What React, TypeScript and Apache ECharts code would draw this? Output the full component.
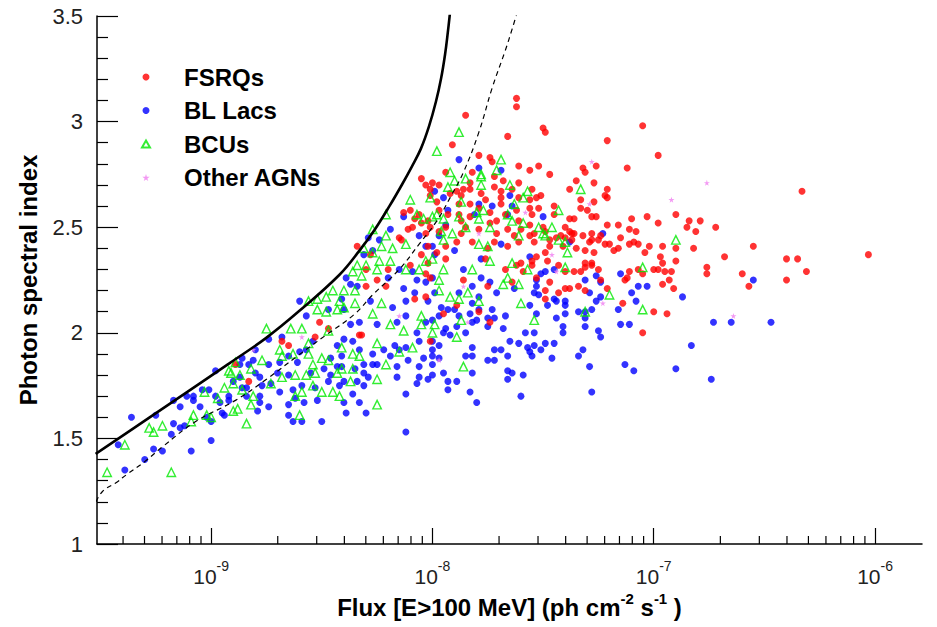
import React, { useEffect, useRef } from "react";
import * as echarts from "echarts";

// Each point: [log10(flux in ph cm^-2 s^-1), photon spectral index]
const fsrqPoints: number[][] = [
  [-7.50,2.97],[-7.49,2.95],[-7.21,2.91],[-7.05,2.98],[-6.98,2.84],[-7.56,2.77],[-7.52,2.79],[-7.47,2.75],[-7.32,2.78],[-7.31,2.76],
  [-7.26,2.79],[-7.12,2.78],[-7.35,2.72],[-7.27,2.71],[-7.38,2.68],[-7.21,2.68],[-7.51,2.65],[-7.53,2.64],[-7.33,2.63],[-7.22,2.65],
  [-7.21,2.64],[-7.27,2.62],[-7.45,2.60],[-7.56,2.59],[-7.52,2.59],[-7.33,2.59],[-7.30,2.58],[-7.55,2.56],[-7.45,2.56],[-7.28,2.55],
  [-7.26,2.55],[-7.38,2.54],[-7.36,2.54],[-7.10,2.54],[-7.03,2.55],[-7.21,2.51],[-7.16,2.51],[-7.56,2.51],[-7.50,2.50],[-7.40,2.50],
  [-6.98,2.52],[-7.54,2.47],[-7.49,2.48],[-7.38,2.48],[-7.37,2.47],[-7.36,2.47],[-7.32,2.46],[-7.28,2.47],[-7.24,2.46],[-7.11,2.49],
  [-7.08,2.48],[-7.15,2.45],[-7.56,2.46],[-7.47,2.44],[-7.44,2.45],[-7.42,2.46],[-7.40,2.45],[-7.37,2.44],[-7.29,2.43],[-7.28,2.44],
  [-7.25,2.44],[-7.22,2.42],[-7.20,2.42],[-7.11,2.42],[-7.09,2.43],[-7.07,2.42],[-7.02,2.41],[-7.47,2.41],[-7.41,2.41],[-7.54,2.43],
  [-7.35,2.40],[-7.31,2.39],[-7.27,2.38],[-7.18,2.39],[-7.16,2.40],[-7.04,2.38],[-7.49,2.38],[-7.53,2.36],[-7.55,2.34],[-7.48,2.34],
  [-7.43,2.32],[-7.31,2.33],[-7.28,2.33],[-7.31,2.31],[-7.28,2.32],[-7.55,2.32],[-7.00,2.30],[-7.40,2.29],[-7.36,2.29],[-7.33,2.29],
  [-7.25,2.30],[-7.11,2.29],[-7.12,2.26],[-7.13,2.25],[-7.07,2.30],[-7.53,2.26],[-7.24,2.25],[-7.47,2.24],[-7.49,2.20],[-7.43,2.19],
  [-7.40,2.21],[-7.38,2.21],[-7.34,2.22],[-7.31,2.20],[-7.21,2.21],[-7.49,2.16],[-7.14,2.14],[-7.00,2.10],[-7.05,2.00],
  [-6.33,2.67],[-6.90,2.56],[-6.84,2.53],[-6.79,2.53],[-6.85,2.50],[-6.81,2.48],[-6.72,2.50],[-6.96,2.41],[-6.90,2.40],[-6.82,2.40],
  [-6.55,2.41],[-6.97,2.36],[-6.96,2.33],[-6.90,2.34],[-6.68,2.36],[-6.40,2.35],[-6.35,2.35],[-6.03,2.37],[-6.98,2.30],[-6.95,2.29],
  [-6.92,2.29],[-6.76,2.31],[-6.76,2.28],[-6.60,2.28],[-6.31,2.29],[-7.05,2.28],[-6.93,2.25],[-6.96,2.23],[-6.91,2.21],[-6.57,2.22],
  [-6.40,2.25],[-6.94,2.09],
  [-7.62,3.11],[-7.62,3.07],[-7.85,3.03],[-7.66,2.93],[-7.91,2.89],[-7.74,2.83],[-7.73,2.81],[-7.79,2.84],[-7.61,2.79],[-7.94,2.76],
  [-7.82,2.76],[-7.72,2.74],[-7.97,2.70],[-7.83,2.71],[-7.68,2.72],[-7.61,2.71],[-7.64,2.68],[-7.89,2.67],[-7.86,2.68],[-7.83,2.68],
  [-7.72,2.69],[-7.69,2.67],[-7.55,2.68],[-8.01,2.65],[-7.92,2.66],[-7.87,2.65],[-7.78,2.66],[-7.69,2.64],[-7.76,2.63],[-7.61,2.64],
  [-7.56,2.63],[-7.98,2.62],[-7.88,2.61],[-7.83,2.61],[-7.69,2.61],[-7.97,2.58],[-7.79,2.59],[-7.74,2.57],[-7.62,2.58],[-7.93,2.56],
  [-7.88,2.56],[-7.83,2.55],[-7.67,2.56],[-7.87,2.53],[-7.74,2.52],[-7.71,2.53],[-7.61,2.53],[-7.94,2.50],[-7.85,2.50],[-7.79,2.49],
  [-7.66,2.49],[-7.60,2.49],[-7.97,2.48],[-7.87,2.47],[-7.71,2.47],[-7.63,2.46],[-7.89,2.43],[-7.82,2.43],[-7.72,2.43],[-7.61,2.43],
  [-7.94,2.41],[-7.75,2.40],[-7.66,2.41],
  [-7.79,2.10],[-7.74,2.05],[-7.95,2.09],[-7.86,2.25],[-7.75,2.22],[-8.01,2.26],[-7.89,2.13],[-7.60,2.33],[-7.76,2.35],[-7.67,2.30],
  [-7.64,2.24],[-7.62,2.32],[-7.59,2.29],
  [-8.05,2.73],[-8.03,2.70],[-8.00,2.71],[-8.01,2.68],[-8.13,2.57],[-8.10,2.58],[-8.06,2.56],[-8.08,2.54],[-8.05,2.52],[-8.02,2.53],
  [-8.11,2.49],[-8.09,2.50],[-8.15,2.45],[-8.14,2.44],[-8.01,2.50],[-8.03,2.47],[-8.34,2.41],[-8.02,2.41],[-7.98,2.38],[-8.05,2.37],
  [-7.94,2.35],[-8.10,2.32],[-8.30,2.30],[-8.20,2.30],[-8.02,2.33],[-8.25,2.25],[-8.21,2.22],[-8.03,2.28],[-8.30,2.22],
  [-8.08,2.16],[-8.03,2.17],[-8.01,1.96],[-8.33,1.99],
  [-8.28,2.37],[-8.51,2.05],[-8.47,2.02],[-8.68,1.96],[-8.65,1.94],[-8.53,1.98],[-8.83,1.77],[-8.32,1.99],[-8.89,1.85]
];

const blLacPoints: number[][] = [
  [-6.55,2.25],[-7.03,2.22],[-6.87,2.17],[-6.73,2.05],[-6.65,2.05],[-6.47,2.05],[-6.83,1.94],[-6.90,1.83],[-6.74,1.78],
  [-7.50,2.55],[-7.23,2.47],[-7.38,2.43],[-7.56,2.36],[-7.49,2.29],[-7.51,2.28],[-7.45,2.30],[-7.31,2.25],[-7.26,2.27],[-7.24,2.24],
  [-7.15,2.28],[-7.53,2.22],[-7.54,2.19],[-7.52,2.18],[-7.29,2.19],[-7.10,2.19],[-7.07,2.22],[-7.45,2.16],[-7.40,2.15],[-7.44,2.15],
  [-7.26,2.15],[-7.24,2.17],[-7.56,2.13],[-7.48,2.13],[-7.40,2.13],[-7.16,2.11],[-7.08,2.15],[-7.34,2.10],[-7.31,2.10],[-7.28,2.11],
  [-7.53,2.09],[-7.44,2.07],[-7.40,2.09],[-7.31,2.07],[-7.31,2.03],[-7.15,2.04],[-7.11,2.04],[-7.41,2.03],[-7.54,2.00],[-7.25,2.01],
  [-7.24,1.98],[-7.41,2.00],[-7.49,1.95],[-7.45,1.95],[-7.51,1.92],[-7.56,1.91],[-7.55,1.89],[-7.32,1.92],[-7.34,1.89],[-7.46,1.88],
  [-7.13,1.85],[-7.09,1.82],[-7.29,1.84],[-7.28,1.72],
  [-7.88,2.82],[-7.79,2.78],[-7.69,2.77],[-7.99,2.67],[-7.95,2.64],[-7.65,2.65],[-7.79,2.61],[-7.73,2.60],[-7.64,2.60],[-7.93,2.58],
  [-7.81,2.56],[-7.66,2.56],[-7.69,2.42],
  [-7.99,2.37],[-7.90,2.39],[-7.78,2.35],[-7.86,2.30],[-8.00,2.26],[-7.78,2.26],[-7.74,2.24],[-7.82,2.22],[-7.53,2.25],[-7.99,2.19],
  [-7.88,2.19],[-7.71,2.19],[-7.63,2.21],[-7.79,2.17],[-7.82,2.14],[-7.96,2.12],[-7.93,2.11],[-7.90,2.11],[-7.79,2.11],[-7.73,2.11],
  [-7.67,2.08],[-7.83,2.09],[-7.88,2.08],[-7.97,2.08],[-7.75,2.07],[-7.80,2.06],[-7.72,2.07],[-7.82,2.05],[-8.00,2.06],[-7.94,2.02],
  [-7.89,2.03],[-7.95,2.00],[-7.92,1.99],[-7.85,2.00],[-7.75,2.03],[-7.68,2.02],[-7.58,2.00],[-8.00,1.96],[-7.97,1.94],[-7.82,1.93],
  [-7.72,1.92],[-7.69,1.92],[-7.65,1.96],[-7.61,1.95],[-7.57,1.93],[-7.54,1.94],[-7.85,1.89],[-7.82,1.89],[-7.75,1.87],[-7.72,1.87],
  [-7.66,1.89],[-8.00,1.89],[-8.00,1.80],[-7.95,1.81],[-7.82,1.81],[-7.66,1.82],[-7.64,1.81],[-7.93,1.77],[-7.89,1.77],[-7.66,1.78],
  [-7.59,1.80],[-7.93,1.73],[-7.83,1.72],[-7.60,1.70],[-7.80,1.67],
  [-8.19,2.49],[-8.13,2.55],[-8.29,2.45],[-8.24,2.44],[-8.31,2.37],[-8.27,2.39],[-8.06,2.46],[-7.97,2.46],[-7.94,2.51],[-8.03,2.41],
  [-8.00,2.41],[-8.15,2.30],[-8.09,2.29],[-8.20,2.26],[-8.07,2.25],[-8.03,2.24],[-8.37,2.23],[-8.34,2.22],[-8.13,2.21],[-8.08,2.19],
  [-8.39,2.26],
  [-8.41,2.16],[-8.28,2.15],[-8.18,2.12],[-8.12,2.15],[-8.02,2.15],[-8.03,2.05],[-8.12,2.08],[-8.37,2.04],[-8.33,2.05],[-8.25,2.04],
  [-8.16,2.05],[-8.07,2.00],[-8.17,1.94],[-8.12,1.93],[-8.15,1.92],[-8.06,1.96],[-8.00,1.92],[-8.27,1.90],[-8.22,1.92],[-8.33,1.92],
  [-8.19,1.89],[-8.11,1.87],[-8.04,1.88],[-7.97,1.88],[-8.31,1.85],[-8.27,1.85],[-8.25,1.85],[-8.41,1.84],[-8.35,1.83],[-8.16,1.84],
  [-8.06,1.84],[-8.00,1.85],[-8.31,1.81],[-8.29,1.79],[-8.16,1.79],[-8.06,1.79],[-8.02,1.78],[-8.40,1.77],[-8.34,1.77],[-8.07,1.76],
  [-8.36,1.71],[-8.12,1.71],[-8.33,1.67],[-8.39,1.62],[-8.30,1.62],[-8.12,1.53],
  [-8.60,2.15],[-8.57,2.08],[-8.47,2.11],[-8.40,2.11],[-8.68,1.98],[-8.74,1.97],[-8.80,1.92],[-8.65,1.89],[-8.60,1.91],[-8.57,1.92],
  [-8.54,1.96],[-8.43,1.94],[-8.40,1.97],[-8.36,1.96],[-8.46,1.88],[-8.41,1.89],[-8.86,1.88],[-8.81,1.87],[-8.69,1.86],[-8.61,1.86],
  [-8.83,1.85],[-8.74,1.85],[-8.70,1.81],[-8.65,1.80],[-8.55,1.81],[-8.49,1.83],[-8.46,1.80],[-8.43,1.84],[-8.87,1.79],[-8.78,1.79],
  [-8.90,1.77],[-8.77,1.75],[-8.73,1.76],[-8.63,1.73],[-8.59,1.75],[-8.53,1.74],[-8.47,1.77],[-8.42,1.75],[-8.31,1.75],[-8.78,1.70],
  [-8.69,1.72],[-8.62,1.69],[-8.58,1.67],[-8.52,1.68],[-8.40,1.67],[-8.78,1.67],[-8.84,1.70],[-8.65,1.66],[-8.74,1.65],[-8.79,1.63],
  [-8.65,1.61],[-8.63,1.58],[-8.59,1.58],[-8.50,1.58],
  [-9.36,1.60],[-9.42,1.47],[-9.39,1.35],[-9.30,1.40],[-9.26,1.45],[-9.22,1.44],[-9.25,1.61],[-9.18,1.52],[-9.17,1.57],[-9.14,1.55],
  [-9.12,1.56],[-9.17,1.68],[-9.14,1.65],[-9.09,1.44],[-9.00,1.49],[-9.11,1.70],[-9.08,1.70],[-9.08,1.68],[-9.05,1.65],[-9.04,1.73],
  [-9.01,1.73],[-8.98,1.82],[-8.98,1.70],[-9.02,1.60],[-9.00,1.58],[-8.96,1.67],[-8.95,1.62],[-8.94,1.61],[-8.92,1.70],[-8.92,1.68],
  [-8.86,1.74],[-8.84,1.74],[-8.87,1.85],[-8.80,1.81]
];

const bcuPoints: number[][] = [
  [-6.90,2.44],[-7.05,2.31],[-7.05,2.11],
  [-7.33,2.68],[-7.43,2.58],[-7.52,2.50],[-7.46,2.50],[-7.50,2.47],[-7.49,2.46],[-7.43,2.44],[-7.40,2.43],[-7.39,2.38],[-7.40,2.31],
  [-7.20,2.18],[-7.31,2.10],[-7.54,2.06],
  [-7.88,2.95],[-7.98,2.86],[-7.69,2.82],[-7.71,2.77],[-7.92,2.76],[-7.78,2.75],[-7.78,2.74],[-7.85,2.73],[-7.90,2.72],[-7.78,2.70],
  [-7.65,2.70],[-7.93,2.69],[-7.57,2.67],[-7.59,2.64],[-8.01,2.64],[-7.87,2.62],[-7.63,2.61],[-7.80,2.57],[-7.77,2.58],[-7.98,2.56],
  [-7.66,2.56],[-7.88,2.55],[-7.95,2.54],[-7.79,2.54],[-7.64,2.53],[-7.59,2.52],[-7.85,2.50],[-7.74,2.50],[-7.96,2.48],[-7.91,2.47],
  [-7.61,2.46],[-7.79,2.42],[-7.75,2.41],
  [-7.95,2.30],[-7.97,2.25],[-7.97,2.20],[-7.84,2.19],[-7.92,2.17],[-7.88,2.16],[-7.79,2.15],[-7.68,2.23],[-7.61,2.23],[-7.64,2.33],
  [-7.82,2.30],[-7.74,2.34],[-7.60,2.14],[-7.99,2.04],[-7.87,2.06],[-8.00,2.00],[-7.89,1.98],[-7.86,1.84],[-7.57,2.30],[-7.66,2.26],
  [-8.10,2.63],[-8.21,2.56],[-8.27,2.49],[-8.21,2.46],[-8.23,2.41],[-8.18,2.40],[-8.27,2.38],[-8.31,2.40],[-8.07,2.56],[-8.04,2.54],
  [-8.00,2.55],[-7.95,2.44],[-8.12,2.42],[-8.00,2.35],[-8.19,2.34],[-8.25,2.30],[-8.36,2.29],[-8.03,2.34],[-8.06,2.30],[-8.12,2.30],
  [-8.24,2.34],
  [-8.42,2.15],[-8.35,2.14],[-8.23,2.14],[-8.27,2.09],[-8.19,2.04],[-8.13,2.01],[-8.05,2.04],[-8.09,1.93],[-8.15,1.91],[-8.05,2.08],
  [-8.36,1.90],[-8.33,1.89],[-8.25,1.95],[-8.21,1.85],[-8.41,1.83],[-8.37,1.77],[-8.25,1.78],[-8.42,1.70],[-8.25,1.66],
  [-8.75,2.02],[-8.64,2.02],[-8.59,2.02],[-8.56,2.15],[-8.52,2.16],[-8.48,2.17],[-8.52,2.11],[-8.48,2.10],[-8.43,2.11],[-8.40,2.12],
  [-8.45,2.20],[-8.40,2.20],[-8.35,2.20],[-8.34,2.32],[-8.32,2.27],[-8.30,2.32],[-8.69,1.92],[-8.68,1.89],[-8.63,1.90],[-8.56,1.90],
  [-8.77,1.87],[-8.82,1.83],[-8.87,1.80],[-8.54,1.85],[-8.50,1.88],[-8.47,1.87],[-8.43,1.81],[-8.36,1.83],[-8.53,1.81],[-8.57,1.80],
  [-8.68,1.79],[-8.62,1.80],[-8.73,1.76],[-8.90,1.76],[-8.81,1.70],[-8.62,1.70],[-8.50,1.72],[-8.45,1.72],[-8.54,1.75],[-8.59,1.72],
  [-8.90,1.63],[-8.88,1.64],[-8.82,1.66],[-8.60,1.61],[-8.84,1.57],[-8.41,1.93],[-8.47,2.01],[-8.56,1.95],
  [-9.47,1.34],[-9.39,1.47],[-9.28,1.55],[-9.26,1.53],[-9.22,1.56],[-9.18,1.34],[-9.08,1.61],[-9.09,1.58],[-9.02,1.61],[-9.00,1.60],
  [-9.03,1.72],[-8.94,1.74],[-8.97,1.69],[-8.92,1.82],[-8.91,1.81],[-8.86,1.73],[-8.89,1.86]
];

const otherAgnPoints: number[][] = [
  [-6.76,2.71],[-6.92,2.63],[-6.64,2.08],[-7.28,2.81],[-7.29,2.61],[-7.46,2.37],[-7.44,2.29],[-7.23,2.14],
  [-7.58,2.57],[-7.79,2.47],[-7.86,2.22],[-7.84,2.05],[-7.97,1.87],[-8.15,2.08],[-8.81,1.92],[-8.59,1.98]
];

// sensitivity limit curves, [log10(flux), index]
const limitSolid: number[][] = [
  [-9.522,1.427],[-9.281,1.597],[-9.054,1.758],[-8.918,1.855],[-8.751,1.976],[-8.601,2.104],[-8.420,2.275],
  [-8.330,2.389],[-8.261,2.488],[-8.193,2.602],[-8.138,2.701],[-8.093,2.787],[-8.052,2.872],[-8.016,2.976],
  [-7.984,3.095],[-7.961,3.204],[-7.943,3.318],[-7.930,3.427],[-7.921,3.512]
];
const limitDashed: number[][] = [
  [-9.52,1.20],[-9.49,1.25],[-9.43,1.29],[-9.38,1.33],[-9.30,1.39],[-9.22,1.46],[-9.07,1.58],[-8.89,1.68],
  [-8.75,1.78],[-8.61,1.89],[-8.48,1.99],[-8.35,2.09],[-8.27,2.18],[-8.15,2.30],[-8.06,2.42],[-7.98,2.53],
  [-7.92,2.64],[-7.86,2.76],[-7.79,2.95],[-7.73,3.16],[-7.671,3.336],[-7.639,3.441],[-7.617,3.517]
];

const xMajorTicks = [1e-9, 1e-8, 1e-7, 1e-6];
const xMinorTicks = [
  4e-10, 5e-10, 6e-10, 7e-10, 8e-10, 9e-10,
  2e-9, 3e-9, 4e-9, 5e-9, 6e-9, 7e-9, 8e-9, 9e-9,
  2e-8, 3e-8, 4e-8, 5e-8, 6e-8, 7e-8, 8e-8, 9e-8,
  2e-7, 3e-7, 4e-7, 5e-7, 6e-7, 7e-7, 8e-7, 9e-7
];
const seriesNames = ["FSRQs", "BL Lacs", "BCUs", "Other AGNs"];

const toXY = (pts: number[][]) => pts.map(([lf, idx]) => [Math.pow(10, lf), idx]);

const FONT = "'Liberation Sans', Arial, Helvetica, sans-serif";
const STAR = "path://M50,0 L61,35 L98,35 L68,57 L79,91 L50,70 L21,91 L32,57 L2,35 L39,35 Z";
const GREEN = "#00e800";

export default function App() {
  const ref = useRef<HTMLDivElement>(null);
  useEffect(() => {
    if (!ref.current) return;
    const chart = echarts.init(ref.current, undefined, { renderer: "svg" });
    const option: any = {
      animation: false,
      backgroundColor: "#ffffff",
      grid: { left: 97, right: 15, top: 16, bottom: 83 },
      legend: {
        orient: "vertical",
        left: 136,
        top: 59,
        itemWidth: 8,
        itemHeight: 7,
        itemGap: 7.5,
        selectedMode: false,
        data: seriesNames,
        textStyle: {
          fontFamily: FONT, fontSize: 24, fontWeight: "bold", color: "#000",
          lineHeight: 26, padding: [0, 0, 0, 29],
        },
      },
      xAxis: {
        type: "log",
        logBase: 10,
        min: 3.05e-10,
        max: 1.63e-6,
        name: "{n|Flux [E>100 MeV] (ph cm}{s|-2}{n| s}{s|-1}{n| )}",
        nameLocation: "middle",
        nameGap: 47,
        nameTextStyle: {
          rich: {
            n: { fontFamily: FONT, fontSize: 24, fontWeight: "bold", color: "#000", lineHeight: 32, verticalAlign: "middle" },
            s: { fontFamily: FONT, fontSize: 15, fontWeight: "bold", color: "#000", lineHeight: 32, verticalAlign: "top" },
          },
        },
        axisLine: { onZero: false, lineStyle: { color: "#000", width: 1.5 } },
        axisTick: { inside: true, length: 16, lineStyle: { color: "#000", width: 1.2 }, customValues: xMajorTicks },
        axisLabel: {
          customValues: xMajorTicks,
          margin: 15,
          formatter: (v: number) => `{b|10}{s|${Math.round(Math.log10(v))}}`,
          rich: {
            b: { fontFamily: FONT, fontSize: 21, color: "#222", lineHeight: 34, verticalAlign: "middle" },
            s: { fontFamily: FONT, fontSize: 14, color: "#222", lineHeight: 34, verticalAlign: "top" },
          },
        },
        splitLine: { show: false },
      },
      yAxis: {
        type: "value",
        min: 1,
        max: 3.5,
        interval: 0.5,
        name: "Photon spectral index",
        nameLocation: "middle",
        nameGap: 57,
        nameRotate: 90,
        nameTextStyle: { fontFamily: FONT, fontSize: 24, fontWeight: "bold", color: "#000" },
        axisLine: { show: true, onZero: false, lineStyle: { color: "#000", width: 1.5 } },
        axisTick: { show: true, inside: true, length: 21, lineStyle: { color: "#000", width: 1.2 } },
        minorTick: { show: true, splitNumber: 5, length: 11, lineStyle: { color: "#000", width: 1.2 } },
        axisLabel: { fontFamily: FONT, fontSize: 22, color: "#222", margin: 14 },
        splitLine: { show: false },
      },
      series: [
        {
          name: "BL Lacs",
          type: "scatter",
          symbol: "circle",
          symbolSize: 7,
          itemStyle: { color: "#0000ff" },
          data: toXY(blLacPoints),
          z: 2,
        },
        {
          name: "FSRQs",
          type: "scatter",
          symbol: "circle",
          symbolSize: 7,
          itemStyle: { color: "#ff0000" },
          data: toXY(fsrqPoints),
          z: 3,
        },
        {
          name: "BCUs",
          type: "scatter",
          symbol: "triangle",
          symbolSize: 8.5,
          itemStyle: { color: "rgba(255,255,255,0)", borderColor: GREEN, borderWidth: 1.4 },
          data: toXY(bcuPoints),
          z: 4,
        },
        {
          name: "Other AGNs",
          type: "scatter",
          symbol: STAR,
          symbolSize: 6,
          itemStyle: { color: "#f080f0" },
          data: toXY(otherAgnPoints),
          z: 5,
        },
        {
          name: "limit",
          type: "line",
          data: toXY(limitSolid),
          smooth: 0.4,
          showSymbol: false,
          symbol: "none",
          lineStyle: { color: "#000", width: 2.6 },
          z: 6,
          silent: true,
        },
        {
          name: "limit2",
          type: "line",
          data: toXY(limitDashed),
          smooth: 0.4,
          showSymbol: false,
          symbol: "none",
          lineStyle: { color: "#000", width: 1.2, type: [5, 4] },
          z: 6,
          silent: true,
        },
        {
          name: "xminor",
          type: "custom",
          silent: true,
          z: 7,
          data: xMinorTicks.map((v) => [v, 1]),
          encode: { x: 0, y: 1 },
          renderItem: (_params: any, api: any) => {
            const p = api.coord([api.value(0), 1]);
            return {
              type: "line",
              shape: { x1: p[0], y1: p[1], x2: p[0], y2: p[1] - 8 },
              style: { stroke: "#000", lineWidth: 1.2 },
            };
          },
        },
      ],
    };
    chart.setOption(option);
    return () => chart.dispose();
  }, []);
  return (
    <div
      ref={ref}
      style={{ position: "fixed", left: 0, top: 0, width: 937, height: 627, background: "#fff" }}
    />
  );
}
